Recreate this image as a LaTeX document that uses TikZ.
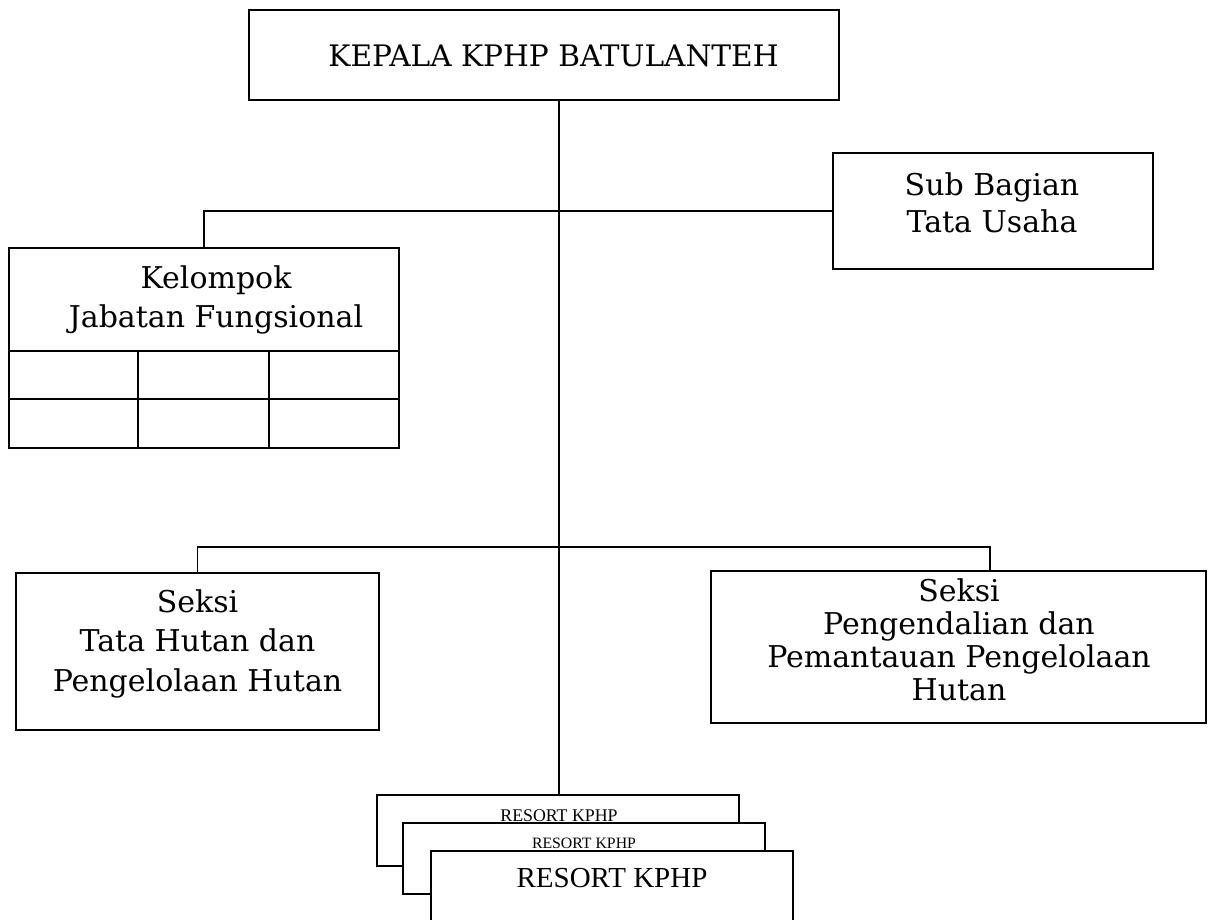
\documentclass[tikz,border=0pt]{standalone}
\usepackage{fontspec}
\setmainfont{DejaVu Serif}
\newfontfamily\timesf{Liberation Serif}
\begin{document}
\begin{tikzpicture}[x=1pt,y=-1pt,
  box/.style={draw, line width=1.8pt, fill=white, inner sep=0pt, outer sep=0pt, anchor=north west},
  lbl/.style={align=center, inner sep=0pt, anchor=base},
  conn/.style={line width=1.8pt}]
\useasboundingbox (0,0) rectangle (1209,919);
% boxes
\node[box, minimum width=590pt, minimum height=90pt] (top) at (249,10) {};
\node[box, minimum width=320pt, minimum height=116pt] (sub) at (833,153) {};
\node[box, minimum width=390pt, minimum height=200pt] (kel) at (9,248) {};
\node[box, minimum width=363pt, minimum height=157pt] (sek1) at (16,573) {};
\node[box, minimum width=495pt, minimum height=152pt] (sek2) at (711,571) {};
\coordinate (tx) at (559,0);
\coordinate (j2) at (990,547);
% connectors
\draw[conn] (top.south -| tx) -- (tx |- 0,795) coordinate (trunkend);
\draw[conn] (kel.north) |- (sub.west);
\draw[conn] (sek1.north) |- (j2) -- (j2 |- sek2.north);
% kelompok grid
\draw[conn] (9,351) -- (399,351);
\draw[conn] (9,399) -- (399,399);
\draw[conn] (138,351) -- (138,448);
\draw[conn] (269,351) -- (269,448);
% resort boxes
\node[box, minimum width=362pt, minimum height=71pt] (resA) at (377,795) {};
\node[box, minimum width=362pt, minimum height=71pt] (resB) at (403,823) {};
\node[box, minimum width=362pt, minimum height=72pt] (resC) at (431,851) {};
% texts (base anchor = baseline of the last line)
\node[lbl, font=\fontsize{29.6}{36}\selectfont] (ttop) at (553.5,66) {KEPALA KPHP BATULANTEH};
\node[lbl, font=\fontsize{30}{37}\selectfont] (tsub) at (992,232) {Sub Bagian\\Tata Usaha};
\node[lbl, font=\fontsize{30}{39}\selectfont] (tkel) at (216,327) {Kelompok\\Jabatan Fungsional};
\node[lbl, font=\fontsize{30}{39.5}\selectfont] (tsek1) at (197.5,691) {Seksi\\Tata Hutan dan\\Pengelolaan Hutan};
\node[lbl, font=\fontsize{30}{32.7}\selectfont] (tsek2) at (959,700) {Seksi\\Pengendalian dan\\Pemantauan Pengelolaan\\Hutan};
\node[lbl, font=\timesf\fontsize{17.8}{20}\selectfont] (tresA) at (559,821) {RESORT KPHP};
\node[lbl, font=\timesf\fontsize{15.8}{18}\selectfont] (tresB) at (584,848) {RESORT KPHP};
\node[lbl, font=\timesf\fontsize{29}{32}\selectfont] (tresC) at (612,887) {RESORT KPHP};
\end{tikzpicture}
\end{document}
